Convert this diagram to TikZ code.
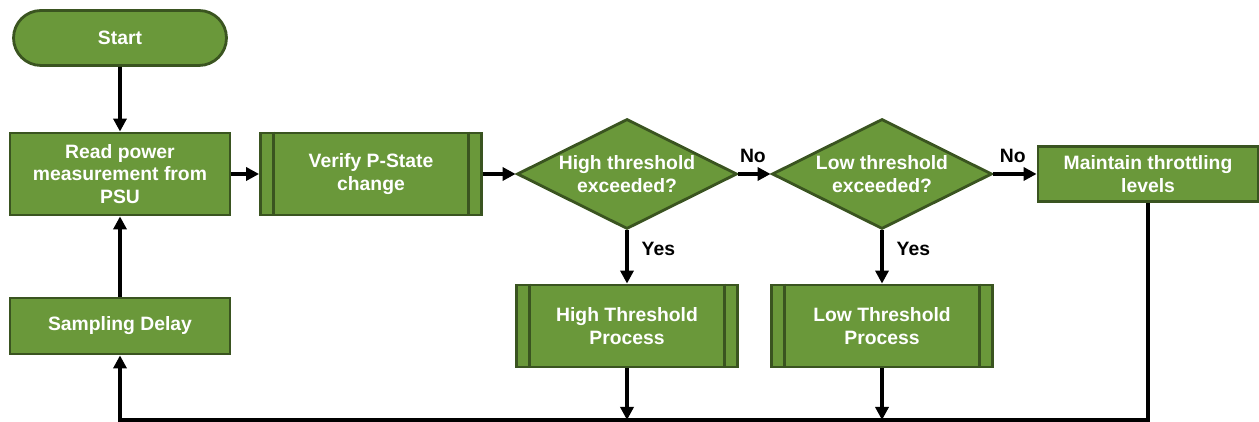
\documentclass[tikz,border=0pt]{standalone}
\usepackage{fontspec}
\setmainfont{Liberation Sans}
\usetikzlibrary{shapes.geometric,shapes.misc,arrows.meta}
\definecolor{boxgreen}{RGB}{106,152,58}
\definecolor{rimgreen}{RGB}{58,84,32}
\tikzset{
  block/.style={draw=rimgreen, fill=boxgreen, line width=1.6pt, text=white,
    font=\fontsize{11}{13}\selectfont\bfseries, align=center, inner sep=2pt},
  startbox/.style={block, rounded rectangle, minimum width=4.4cm, minimum height=1.1cm},
  procbox/.style={block, rectangle, minimum width=4.4cm},
  subproc/.style={block, rectangle, minimum width=4.42cm, minimum height=1.64cm},
  decision/.style={block, diamond, aspect=2, inner sep=0pt, minimum width=4.4cm, minimum height=2.2cm},
  flow/.style={line width=2.1pt, -{Triangle[length=0.26cm,width=0.26cm]}},
  lbl/.style={font=\fontsize{11}{13}\selectfont\bfseries, text=black}
}
\begin{document}
\begin{tikzpicture}
\useasboundingbox (0,0) rectangle (25.18,8.44);
\coordinate (base) at (0,0.04);
% boxes
\node[startbox] (start) at (2.40,7.68) {Start};
\node[procbox, minimum height=1.64cm] (read) at (2.40,4.96) {Read power\\measurement from\\PSU};
\node[subproc] (verify) at (7.42,4.96) {Verify P-State\\change};
\node[decision] (high) at (12.54,4.96) {High threshold\\exceeded?};
\node[decision] (low) at (17.64,4.96) {Low threshold\\exceeded?};
\node[procbox, minimum height=1.1cm] (maint) at (22.96,4.96) {Maintain throttling\\levels};
\node[procbox, minimum height=1.12cm] (delay) at (2.40,1.92) {Sampling Delay};
\node[subproc] (hproc) at (12.54,1.92) {High Threshold\\Process};
\node[subproc] (lproc) at (17.64,1.92) {Low Threshold\\Process};
% side bars of the sub-process boxes
\foreach \n in {verify,hproc,lproc} {
  \draw[rimgreen, line width=1.6pt] ([xshift=0.29cm]\n.north west) -- ([xshift=0.29cm]\n.south west);
  \draw[rimgreen, line width=1.6pt] ([xshift=-0.29cm]\n.north east) -- ([xshift=-0.29cm]\n.south east);
}
% connectors
\draw[flow] (start) -- (read);
\draw[flow] (read) -- (verify);
\draw[flow] (verify) -- (high);
\draw[flow] (high) -- node[lbl, above=2pt, pos=0.45] {No} (low);
\draw[flow] (low) -- node[lbl, above=2pt, pos=0.45] {No} (maint);
\draw[flow] (high) -- node[lbl, right=4pt, pos=0.35] {Yes} (hproc);
\draw[flow] (low) -- node[lbl, right=4pt, pos=0.35] {Yes} (lproc);
\draw[flow] (delay) -- (read);
\draw[flow] (hproc) -- (hproc.south |- base);
\draw[flow] (lproc) -- (lproc.south |- base);
\draw[flow] (maint.south) |- (delay.south |- base) -- (delay.south);
\end{tikzpicture}
\end{document}
